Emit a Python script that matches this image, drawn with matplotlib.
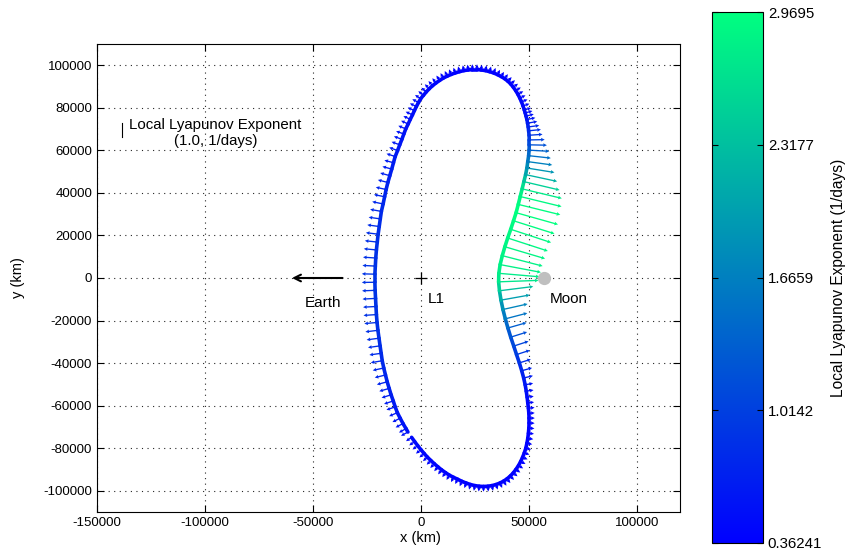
"""Local Lyapunov exponent along a planar Lyapunov orbit about Earth-Moon L1."""

import numpy as np
import matplotlib
import matplotlib.pyplot as plt
from matplotlib.collections import LineCollection

plt.rcParams["font.family"] = ["Liberation Sans", "DejaVu Sans"]
plt.rcParams["axes.unicode_minus"] = False

# orbit samples, x and y in 1000 km relative to L1 (break point at lower left)
orbit_x = [
    -4.3, -2.9, -1.5, 0.0, 1.5, 3.0, 4.6, 6.2, 7.9, 9.6, 11.4, 13.2, 15.1, 17.0,
    19.0, 21.0, 23.0, 25.0, 27.0, 29.0, 31.0, 32.9, 34.8, 36.6, 38.3, 39.9, 41.4,
    42.8, 44.0, 45.2, 46.2, 47.1, 47.9, 48.6, 49.1, 49.5, 49.8, 50.0, 50.1,
    50.1, 50.0, 49.8, 49.5, 49.2, 48.8, 48.3, 47.6, 46.7, 45.6, 44.3, 43.0, 41.6,
    40.3, 39.1, 38.0, 37.1, 36.4, 36.0,
    36.1, 36.7, 37.7, 38.9, 40.2, 41.6, 42.9, 44.1, 45.1, 46.0, 46.9, 47.7, 48.5,
    49.1, 49.5, 49.9, 50.1, 50.2, 50.2, 50.1, 49.9, 49.7, 49.4, 49.1, 48.7, 48.3,
    47.9,
    47.3, 46.6, 45.8, 44.9, 43.9, 42.8, 41.6, 40.3, 38.8, 37.2, 35.5, 33.7, 31.8,
    29.9, 27.9, 25.9, 23.9, 21.9, 19.9, 17.9, 15.9, 14.0, 12.2, 10.4, 8.7, 7.0,
    5.4, 3.9, 2.5, 1.2, -0.1, -1.1, -2.1,
    -3.0, -3.9, -4.9, -5.9, -7.0, -7.9, -8.8, -9.8, -10.8, -11.9, -12.7, -13.5,
    -14.4, -15.3, -16.1, -16.8, -17.5, -18.3, -18.8, -19.3, -19.8, -20.2, -20.6,
    -20.9, -21.1, -21.3, -21.3, -21.2, -21.0, -20.8, -20.6, -20.3, -19.9, -19.4,
    -18.9, -18.4, -17.9, -17.2, -16.4, -15.6, -14.7, -13.8, -12.8, -11.9, -10.9,
    -9.6, -8.3, -6.9, -6.0,
]
orbit_y = [
    -74.9, -76.9, -78.8, -80.7, -82.5, -84.2, -85.8, -87.3, -88.8, -90.2, -91.5,
    -92.7, -93.7, -94.6, -95.6, -96.4, -97.1, -97.6, -97.9, -98.0, -97.9, -97.6,
    -97.1, -96.4, -95.5, -94.4, -93.1, -91.6, -90.0, -88.2, -86.3, -84.3, -82.2,
    -80.0, -77.7, -75.4, -73.0, -70.6, -68.2,
    -65.9, -63.6, -61.2, -58.7, -56.0, -53.2, -50.2, -47.0, -43.6, -39.9, -36.0,
    -32.0, -27.8, -23.5, -19.2, -14.8, -10.4, -6.0, -1.8,
    2.2, 6.3, 10.5, 14.7, 18.8, 22.9, 26.9, 30.7, 34.6, 38.3, 41.9, 45.3, 48.6,
    51.7, 54.7, 57.5, 60.1, 62.6, 64.9, 67.1, 69.2, 71.0, 72.8, 74.5, 76.1, 77.6,
    79.0,
    80.9, 82.8, 84.6, 86.4, 88.1, 89.7, 91.2, 92.5, 93.7, 94.7, 95.6, 96.4, 97.0,
    97.5, 97.8, 98.0, 98.0, 97.8, 97.5, 97.0, 96.4, 95.7, 94.9, 94.0, 92.9, 91.7,
    90.4, 89.0, 87.5, 85.9, 84.3, 82.5, 80.6,
    78.7, 76.7, 74.6, 72.4, 70.1, 67.7, 65.2, 62.6, 59.9, 57.1, 54.2, 51.2, 48.1,
    44.9, 41.6, 38.2, 34.8, 31.3, 27.8, 24.2, 20.6, 16.9, 13.2, 9.4, 5.6, 1.8,
    -2.0, -5.8, -9.6, -13.4, -17.2, -20.9, -24.6, -28.3, -31.9, -35.4, -38.9,
    -42.3, -45.6, -48.8, -51.9, -54.9, -57.8, -60.6, -63.3, -65.9, -68.4, -70.8,
    -72.4,
]
# local Lyapunov exponent at each sample (1/days)
lyap = [
    0.46, 0.45, 0.44, 0.43, 0.42, 0.41, 0.40, 0.40, 0.39, 0.39, 0.38, 0.38, 0.37,
    0.37, 0.37, 0.37, 0.365, 0.365, 0.36241, 0.36241, 0.365, 0.365, 0.365, 0.37,
    0.37, 0.37, 0.37, 0.37, 0.37, 0.37, 0.37, 0.37, 0.37, 0.37, 0.37, 0.38, 0.38,
    0.38, 0.38,
    0.39, 0.40, 0.42, 0.43, 0.45, 0.50, 0.55, 0.65, 0.73, 0.82, 0.95, 1.06, 1.17,
    1.32, 1.55, 1.72, 1.99, 2.32, 2.72,
    2.78, 2.83, 2.84, 2.86, 2.88, 2.90, 2.93, 2.9695, 2.95, 2.90, 2.78, 2.50, 2.20,
    1.90, 1.68, 1.52, 1.38, 1.20, 1.05, 0.92, 0.84, 0.76, 0.67, 0.59, 0.54, 0.51,
    0.48,
    0.46, 0.44, 0.43, 0.42, 0.41, 0.40, 0.39, 0.38, 0.38, 0.37, 0.37, 0.37, 0.365,
    0.365, 0.36241, 0.36241, 0.365, 0.37, 0.37, 0.37, 0.38, 0.38, 0.39, 0.39, 0.40,
    0.41, 0.42, 0.43, 0.44, 0.45, 0.46, 0.48, 0.49,
    0.50, 0.51, 0.52, 0.53, 0.55, 0.56, 0.58, 0.59, 0.61, 0.62, 0.64, 0.66, 0.68,
    0.70, 0.72, 0.74, 0.76, 0.78, 0.80, 0.82, 0.84, 0.85, 0.86, 0.87, 0.88, 0.89,
    0.89, 0.89, 0.89, 0.88, 0.88, 0.87, 0.86, 0.85, 0.83, 0.81, 0.79, 0.77, 0.75,
    0.73, 0.70, 0.68, 0.66, 0.63, 0.61, 0.59, 0.57, 0.55, 0.54,
]

cbar_ticks = [0.36241, 1.0142, 1.6659, 2.3177, 2.9695]
cbar_labels = ["0.36241", "1.0142", "1.6659", "2.3177", "2.9695"]
moon_x = 57000
arrow_scale = 6800  # km per 1/day


def main():
    x = np.array(orbit_x) * 1000
    y = np.array(orbit_y) * 1000
    c = np.array(lyap)

    cmap = plt.get_cmap("winter")
    norm = matplotlib.colors.Normalize(vmin=min(cbar_ticks), vmax=max(cbar_ticks))

    fig = plt.figure(figsize=(8.49, 5.55), dpi=100)
    ax = fig.add_axes([97 / 849, 1 - 512 / 555, 583 / 849, 468 / 555])

    # outward normals (orbit runs counter-clockwise)
    tx = np.gradient(x)
    ty = np.gradient(y)
    n = np.hypot(tx, ty)
    nx, ny = ty / n, -tx / n
    ax.quiver(x, y, nx * c * arrow_scale, ny * c * arrow_scale, c,
              cmap=cmap, norm=norm, angles="xy", scale_units="xy", scale=1,
              width=0.0023, headwidth=2.8, headlength=2.8, headaxislength=2.5,
              zorder=2)

    pts = np.column_stack([x, y]).reshape(-1, 1, 2)
    segs = np.concatenate([pts[:-1], pts[1:]], axis=1)
    lc = LineCollection(segs, cmap=cmap, norm=norm, linewidth=2.6,
                        capstyle="round", zorder=3)
    lc.set_array((c[:-1] + c[1:]) / 2)
    ax.add_collection(lc)

    ax.plot(0, 0, "k+", ms=8, mew=0.9, zorder=4)
    ax.plot(moon_x, 0, "o", color="0.75", mec="0.75", ms=8.5, zorder=4)
    ax.annotate("", xy=(-61000, 0), xytext=(-35000, 0),
                arrowprops=dict(arrowstyle="->", lw=1.5, color="k",
                                mutation_scale=12))
    ax.text(-45500, -11800, "Earth", ha="center", va="center", fontsize=11)
    ax.text(3000, -10000, "L1", ha="left", va="center", fontsize=11)
    ax.text(59500, -10000, "Moon", ha="left", va="center", fontsize=11)

    # scale sample for the arrows
    ax.plot([-138500, -138500], [69500 - arrow_scale / 2, 69500 + arrow_scale / 2],
            color="k", lw=0.8)
    ax.text(-135000, 68300, "Local Lyapunov Exponent\n(1.0, 1/days)",
            ha="left", va="center", multialignment="center", fontsize=10.8,
            linespacing=1.15)

    ax.set_xlim(-150000, 120000)
    ax.set_ylim(-110000, 110000)
    ax.set_xticks(np.arange(-150000, 100001, 50000))
    ax.set_yticks(np.arange(-100000, 100001, 20000))
    ax.tick_params(direction="in", top=True, right=True, length=5, labelsize=9.5)
    ax.grid(True, linestyle=(0, (1, 4)), color="0.15", linewidth=0.8)
    ax.set_xlabel("x (km)", fontsize=10.5)
    ax.set_ylabel("y (km)", fontsize=10.5)
    ax.xaxis.set_label_coords((420 - 97) / 583, -0.041)
    ax.yaxis.set_label_coords(-(97 - 25) / 583, 0.5)

    cax = fig.add_axes([712 / 849, 1 - 543 / 555, 51 / 849, 531 / 555])
    sm = matplotlib.cm.ScalarMappable(norm=norm, cmap=cmap)
    cbar = fig.colorbar(sm, cax=cax, ticks=cbar_ticks)
    cbar.ax.set_yticklabels(cbar_labels)
    cbar.ax.tick_params(direction="in", left=True, right=True, length=4,
                        labelsize=10.8)
    cbar.set_label("Local Lyapunov Exponent (1/days)", fontsize=11.2, labelpad=6)

    fig.savefig("out.png", dpi=100)


if __name__ == "__main__":
    main()
